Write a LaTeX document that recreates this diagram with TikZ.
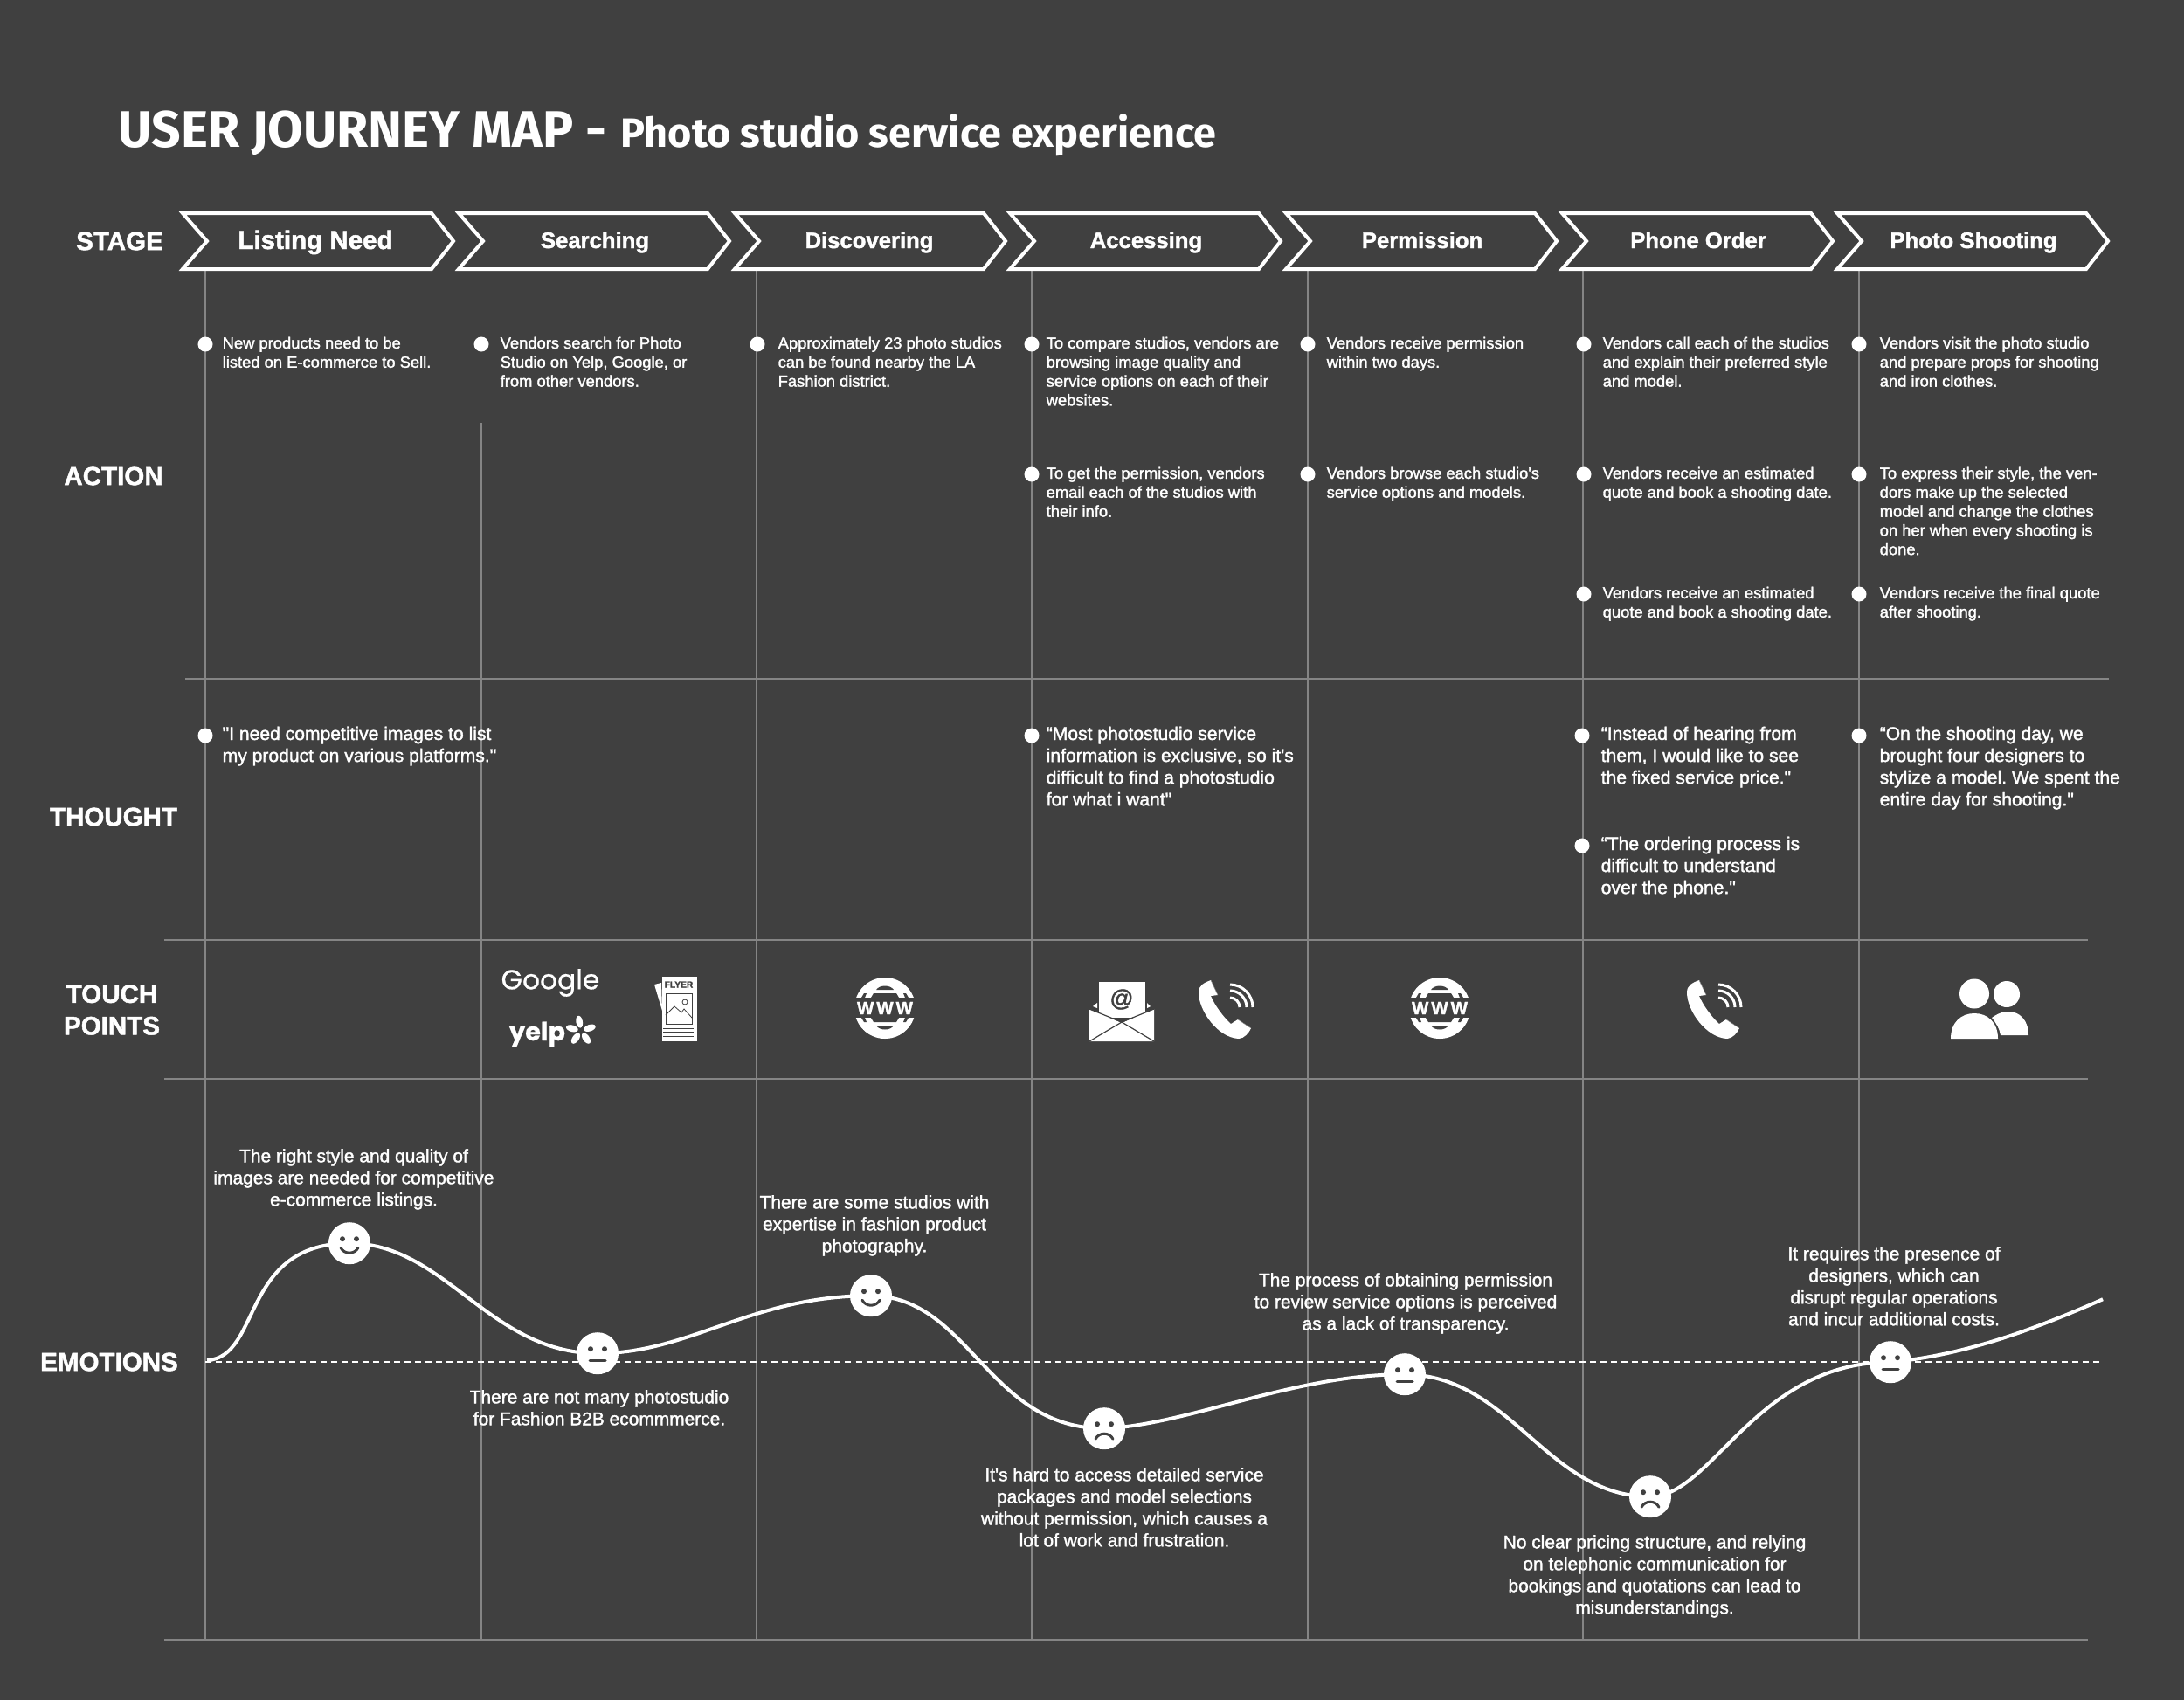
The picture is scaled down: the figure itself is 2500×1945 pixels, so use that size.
\documentclass[tikz,border=0pt]{standalone}
\usepackage{fontspec}
\setmainfont{Liberation Sans}[Ligatures=TeXOff, RawFeature={embolden=1.6}]
\newfontfamily\titlefont{Fira Sans}
\newfontfamily\logofont{Poppins}[RawFeature={embolden=0.6}]
\definecolor{pagebg}{HTML}{404040}
\definecolor{ruleline}{HTML}{858585}
\frenchspacing

\tikzset{
    rowlabel/.style={text=white, font=\bfseries\fontsize{8.4}{10.4}\selectfont, align=center, inner sep=0pt},
    stagelabel/.style={anchor=base, text=white, font=\bfseries\fontsize{7.3}{9}\selectfont, inner sep=0pt},
    chevron/.style={draw=white, line width=0.04cm, miter limit=10},
    rule/.style={draw=ruleline, line width=0.012cm},
    bullet/.style={circle, fill=white, minimum size=0.17cm, inner sep=0pt},
    actiontext/.style={anchor=north west, inner sep=0pt, text=white, align=left,
        font=\fontsize{5.22}{6.2}\selectfont, execute at begin node=\strut},
    thoughttext/.style={anchor=north west, inner sep=0pt, text=white, align=left,
        font=\fontsize{6}{7.13}\selectfont, execute at begin node=\strut},
    emotiontext/.style={anchor=north, inner sep=0pt, text=white, align=center, yshift=-0.035cm,
        font=\fontsize{5.95}{7.1}\selectfont, execute at begin node=\strut},
    facedot/.style={circle, fill=white, minimum size=0.48cm, inner sep=0pt},
    facemark/.style={draw=pagebg, line width=0.03cm, line cap=round}
}

% bullet and its text: name, bullet x, text x, y, text
\newcommand{\actionitem}[5]{
    \node[bullet] (dot#1) at (#2,#4+2) {};
    \node[actiontext] (act#1) at (#3,#4-7) {#5};
}
\newcommand{\thoughtitem}[5]{
    \node[bullet] (dot#1) at (#2,#4+2) {};
    \node[thoughttext] (say#1) at (#3,#4-9) {#5};
}
% handset with waves, origin at its top left
\newcommand{\phoneicon}{
    \fill[white] (14,0) .. controls (6,3) and (0,6) .. (0,14) .. controls (0,35) and (22,66) .. (46,67)
        .. controls (52,67) and (58,60) .. (60,55) -- (45,45) -- (37,50)
        .. controls (28,42) and (18,28) .. (14,18) -- (22,17) -- cycle;
    \draw[ruleline, line width=0.005cm] (14,0) -- (22,17) (45,45) -- (60,55);
    \foreach \r in {11,19,26} {
        \draw[white, line width=0.03cm] (36,31-\r) .. controls (36+0.55*\r,31-\r) and (36+\r,31-0.55*\r) .. (36+\r,31);
    }
}
% globe with www band, origin at its centre
\newcommand{\globeicon}{
    \fill[white] (0,0) circle (35);
    \fill[pagebg] (-37,-12) rectangle (37,11);
    \fill[pagebg] (-10,-21) .. controls (-6,-27) and (6,-27) .. (10,-21) -- cycle;
    \fill[pagebg] (-13,-17) -- (13,-17) -- (16,-12) -- (-16,-12) -- cycle;
    \fill[pagebg] (-10,20) .. controls (-6,26) and (6,26) .. (10,20) -- cycle;
    \fill[pagebg] (-13,16) -- (13,16) -- (16,11) -- (-16,11) -- cycle;
    \fill[pagebg] (-24,-17) -- (-21,-17) -- (-23,-12) -- (-27,-12) -- cycle;
    \fill[pagebg] (24,-17) -- (21,-17) -- (23,-12) -- (27,-12) -- cycle;
    \fill[pagebg] (-24,16) -- (-21,16) -- (-23,11) -- (-27,11) -- cycle;
    \fill[pagebg] (24,16) -- (21,16) -- (23,11) -- (27,11) -- cycle;
    \node[text=white, inner sep=0pt, font=\bfseries\fontsize{5.8}{6}\selectfont] at (0,0) {W\hspace{0.15em}W\hspace{0.15em}W};
}

\begin{document}
\begin{tikzpicture}[x=0.01cm, y=-0.01cm]
    \useasboundingbox (0,0) rectangle (2500,1945);
    \fill[pagebg] (-5,-5) rectangle (2505,1950);

    % title
    \node[anchor=base west, inner sep=0pt, text=white, font=\titlefont\bfseries\fontsize{16.7}{20}\selectfont] (maintitle) at (135,168) {USER JOURNEY MAP -};
    \node[anchor=base west, inner sep=0pt, text=white, font=\titlefont\bfseries\fontsize{13.3}{16}\selectfont] (subtitle) at (710,168) {Photo studio service experience};

    % grid
    \foreach \x in {235,866,1181,1497,1812,2128} {
        \draw[rule] (\x,308) -- (\x,1877);
    }
    \draw[rule] (551,484) -- (551,1877);
    \draw[rule] (212,777) -- (2414,777);
    \foreach \y in {1076,1235,1877} {
        \draw[rule] (188,\y) -- (2390,\y);
    }

    % stages
    \foreach \x in {209,525,841,1156,1472,1788,2103} {
        \draw[chevron] (\x,244) -- ++(285,0) -- ++(25,32) -- ++(-25,32) -- ++(-285,0) -- ++(28,-32) -- cycle;
    }
    \node[stagelabel, font=\bfseries\fontsize{8.4}{10}\selectfont] (listing) at (361,285) {Listing Need};
    \node[stagelabel] (searching) at (681,284) {Searching};
    \node[stagelabel] (discovering) at (995,284) {Discovering};
    \node[stagelabel] (accessing) at (1312,284) {Accessing};
    \node[stagelabel] (permission) at (1628,284) {Permission};
    \node[stagelabel] (phoneorder) at (1944,284) {Phone Order};
    \node[stagelabel] (shooting) at (2259,284) {Photo Shooting};

    % row labels
    \node[rowlabel] (stage) at (137,276) {STAGE};
    \node[rowlabel] (action) at (130,545) {ACTION};
    \node[rowlabel] (thought) at (130,935) {THOUGHT};
    \node[rowlabel] (touch) at (128,1156) {TOUCH\\POINTS};
    \node[rowlabel] (emotions) at (125,1559) {EMOTIONS};

    % actions
    \actionitem{aa}{235}{254}{392}{New products need to be\\listed on E-commerce to Sell.}
    \actionitem{ba}{551}{572}{392}{Vendors search for Photo\\Studio on Yelp, Google, or\\from other vendors.}
    \actionitem{ca}{867}{890}{392}{Approximately 23 photo studios\\can be found nearby the LA\\Fashion district.}
    \actionitem{da}{1181}{1197}{392}{To compare studios, vendors are\\browsing image quality and\\service options on each of their\\websites.}
    \actionitem{db}{1181}{1197}{541}{To get the permission, vendors\\email each of the studios with\\their info.}
    \actionitem{ea}{1497}{1518}{392}{Vendors receive permission\\within two days.}
    \actionitem{eb}{1497}{1518}{541}{Vendors browse each studio's\\service options and models.}
    \actionitem{fa}{1813}{1834}{392}{Vendors call each of the studios\\and explain their preferred style\\and model.}
    \actionitem{fb}{1813}{1834}{541}{Vendors receive an estimated\\quote and book a shooting date.}
    \actionitem{fc}{1813}{1834}{678}{Vendors receive an estimated\\quote and book a shooting date.}
    \actionitem{ga}{2128}{2151}{392}{Vendors visit the photo studio\\and prepare props for shooting\\and iron clothes.}
    \actionitem{gb}{2128}{2151}{541}{To express their style, the ven-\\dors make up the selected\\model and change the clothes\\on her when every shooting is\\done.}
    \actionitem{gc}{2128}{2151}{678}{Vendors receive the final quote\\after shooting.}

    % thoughts
    \thoughtitem{ta}{235}{254}{840}{"I need competitive images to list\\my product on various platforms."}
    \thoughtitem{td}{1181}{1197}{840}{“Most photostudio service\\information is exclusive, so it's\\difficult to find a photostudio\\for what i want"}
    \thoughtitem{tf}{1811}{1832}{840}{“Instead of hearing from\\them, I would like to see\\the fixed service price."}
    \thoughtitem{tg}{2128}{2151}{840}{“On the shooting day, we\\brought four designers to\\stylize a model. We spent the\\entire day for shooting."}
    \thoughtitem{th}{1811}{1832}{966}{“The ordering process is\\difficult to understand\\over the phone."}

    % touch points
    \node[inner sep=0pt, text=white, font=\logofont\fontsize{8.9}{12}\selectfont] (google) at (630,1125) {Google};
    \node[anchor=base, inner sep=0pt, text=white, font=\logofont\bfseries\fontsize{8.2}{12}\selectfont] (yelp) at (615,1191) {yelp};
    \begin{scope}[shift={(665,1180)}]
        \foreach \a in {10,-72,-145,145,75} {
            \fill[white, rotate=\a] (0,-10.5) ellipse (3.8 and 7);
        }
    \end{scope}

    \fill[white] (749,1127) -- (757,1125) -- (758,1157) -- cycle;
    \fill[white] (758,1118) rectangle (798,1192);
    \node[inner sep=0pt, text=pagebg, font=\bfseries\fontsize{2.9}{3}\selectfont] (flyer) at (777,1127) {FLYER};
    \draw[pagebg, line width=0.008cm] (762,1137) rectangle (792,1172);
    \draw[pagebg, line width=0.008cm] (762,1162) -- (772,1152) -- (780,1159) -- (783,1155) -- (792,1165);
    \draw[pagebg, line width=0.008cm] (784,1147) circle (3);
    \foreach \y in {1177,1181.5,1186} {
        \draw[pagebg, line width=0.01cm] (759,\y) -- (794,\y);
    }

    \begin{scope}[shift={(1013,1154)}]
        \globeicon
    \end{scope}

    \fill[white] (1258,1124) rectangle (1311,1165);
    \node[inner sep=0pt, text=pagebg, font=\fontsize{7.6}{8}\selectfont] (atsign) at (1284,1144) {@};
    \fill[white] (1247,1155) -- (1284,1171) -- (1321,1155) -- (1321,1192) -- (1247,1192) -- cycle;
    \fill[white] (1251,1152) -- (1256,1148) -- (1256,1154) -- cycle;
    \fill[white] (1317,1152) -- (1313,1148) -- (1313,1154) -- cycle;
    \draw[pagebg, line width=0.012cm] (1247,1155) -- (1284,1170) -- (1321,1155);
    \draw[pagebg, line width=0.012cm] (1247,1192) -- (1284,1170) -- (1321,1192);

    \begin{scope}[shift={(1372,1122)}]
        \phoneicon
    \end{scope}

    \begin{scope}[shift={(1648,1154)}]
        \globeicon
    \end{scope}

    \begin{scope}[shift={(1931,1122)}]
        \phoneicon
    \end{scope}

    \fill[white] (2260,1137.5) circle (17);
    \fill[white] (2297,1138) circle (15);
    \fill[white] (2280,1165) .. controls (2300,1150) and (2322,1160) .. (2322,1185) -- (2290,1185) .. controls (2289,1178) and (2285,1171) .. (2280,1165) -- cycle;
    \fill[white] (2233,1189) .. controls (2233,1170) and (2245,1160) .. (2260,1160) .. controls (2275,1160) and (2287,1170) .. (2287,1189) -- cycle;

    % emotion curve
    \begin{scope}[yshift=-0.012cm]
    \draw[white, line width=0.018cm, dash pattern=on 0.07cm off 0.05cm] (235,1558) -- (2407,1558);
    \draw[white, line width=0.04cm] (237,1556) .. controls (300,1552) and (275,1422) .. (400,1422)
        .. controls (510,1422) and (560,1548) .. (684,1548)
        .. controls (790,1548) and (860,1482) .. (996,1482)
        .. controls (1110,1482) and (1130,1634) .. (1264,1634)
        .. controls (1360,1630) and (1480,1572) .. (1607,1572)
        .. controls (1730,1572) and (1770,1712) .. (1889,1712)
        .. controls (1960,1712) and (2010,1558) .. (2164,1558)
        .. controls (2250,1550) and (2330,1520) .. (2407,1486);

    \foreach \x/\y in {400/1422,997/1482} {
        \node[facedot] at (\x,\y) {};
        \fill[pagebg] (\x-8,\y-5) circle (3) (\x+8,\y-5) circle (3);
        \draw[facemark] (\x-10,\y+5) .. controls (\x-6,\y+13) and (\x+6,\y+13) .. (\x+10,\y+5);
    }
    \foreach \x/\y in {684/1548,1608/1572,2164/1558} {
        \node[facedot] at (\x,\y) {};
        \fill[pagebg] (\x-8,\y-5) circle (3) (\x+8,\y-5) circle (3);
        \draw[facemark] (\x-9,\y+8) -- (\x+9,\y+8);
    }
    \foreach \x/\y in {1264/1634,1889/1712} {
        \node[facedot] at (\x,\y) {};
        \fill[pagebg] (\x-8,\y-5) circle (3) (\x+8,\y-5) circle (3);
        \draw[facemark] (\x-10,\y+12) .. controls (\x-6,\y+4) and (\x+6,\y+4) .. (\x+10,\y+12);
    }
    \end{scope}

    % emotion notes
    \node[emotiontext] (notea) at (405,1311) {The right style and quality of\\images are needed for competitive\\e-commerce listings.};
    \node[emotiontext] (noteb) at (686,1587) {There are not many photostudio\\for Fashion B2B ecommmerce.};
    \node[emotiontext] (notec) at (1001,1364) {There are some studios with\\expertise in fashion product\\photography.};
    \node[emotiontext] (noted) at (1287,1676) {It's hard to access detailed service\\packages and model selections\\without permission, which causes a\\lot of work and frustration.};
    \node[emotiontext] (notee) at (1609,1453) {The process of obtaining permission\\to review service options is perceived\\as a lack of transparency.};
    \node[emotiontext] (notef) at (1894,1753) {No clear pricing structure, and relying\\on telephonic communication for\\bookings and quotations can lead to\\misunderstandings.};
    \node[emotiontext] (noteg) at (2168,1423) {It requires the presence of\\designers, which can\\disrupt regular operations\\and incur additional costs.};
\end{tikzpicture}
\end{document}
